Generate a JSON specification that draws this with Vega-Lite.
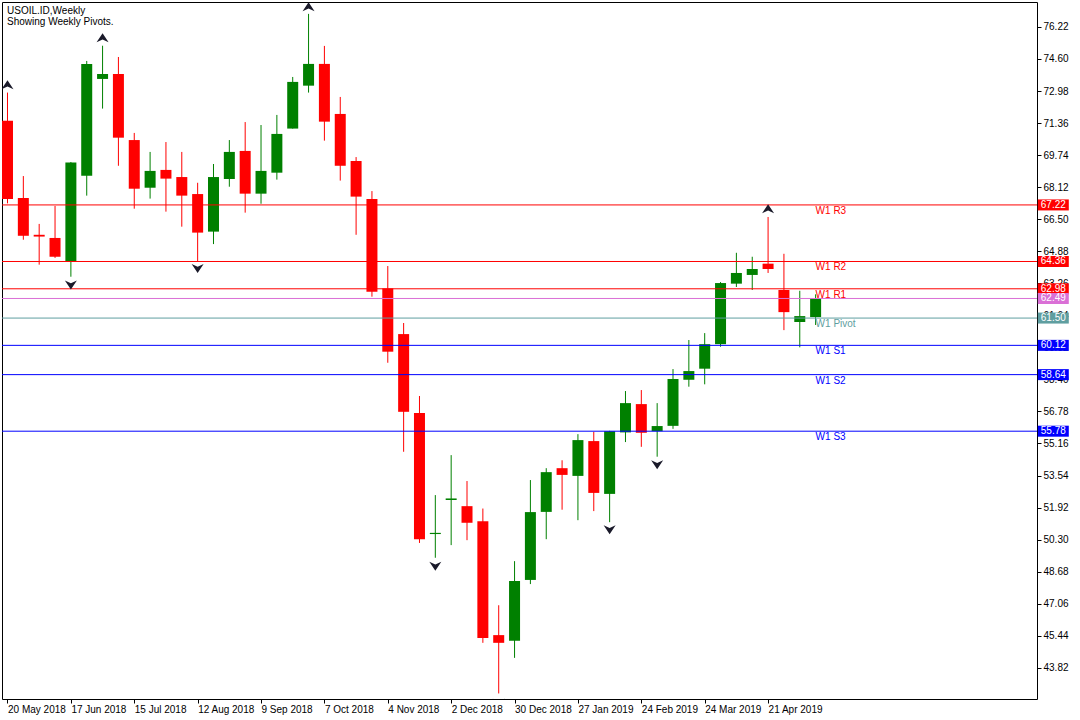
{
  "$schema": "https://vega.github.io/schema/vega-lite/v6.json",
  "width": 1035,
  "height": 697,
  "autosize": {"type": "none"},
  "padding": {"left": 2, "top": 2, "right": 43, "bottom": 21},
  "background": "white",
  "config": {
    "view": {"stroke": "black", "strokeWidth": 1},
    "font": "Liberation Sans",
    "axis": {"labelFont": "Liberation Sans", "labelFontSize": 10, "labelColor": "black", "tickColor": "black", "domain": false, "grid": false, "labelOverlap": false, "labelFlush": false, "labelBound": false}
  },
  "title": {
    "text": ["USOIL.ID,Weekly", "Showing Weekly Pivots."],
    "anchor": "start",
    "frame": "group",
    "orient": "top",
    "baseline": "top",
    "offset": -25,
    "dx": 5,
    "font": "Liberation Sans",
    "fontSize": 10,
    "fontWeight": "normal",
    "color": "black",
    "lineHeight": 11
  },
  "datasets": {
    "candles": [
      {"date": "2018-05-20", "open": 71.47, "high": 72.90, "low": 67.30, "close": 67.52},
      {"date": "2018-05-27", "open": 67.57, "high": 68.68, "low": 65.46, "close": 65.66},
      {"date": "2018-06-03", "open": 65.71, "high": 66.26, "low": 64.20, "close": 65.62},
      {"date": "2018-06-10", "open": 65.55, "high": 67.17, "low": 64.54, "close": 64.60},
      {"date": "2018-06-17", "open": 64.38, "high": 69.39, "low": 63.59, "close": 69.36},
      {"date": "2018-06-24", "open": 68.70, "high": 74.50, "low": 67.69, "close": 74.35},
      {"date": "2018-07-01", "open": 73.59, "high": 75.27, "low": 72.09, "close": 73.84},
      {"date": "2018-07-08", "open": 73.84, "high": 74.70, "low": 69.20, "close": 70.62},
      {"date": "2018-07-15", "open": 70.50, "high": 70.86, "low": 67.03, "close": 68.04},
      {"date": "2018-07-22", "open": 68.09, "high": 69.90, "low": 67.54, "close": 68.94},
      {"date": "2018-07-29", "open": 68.99, "high": 70.40, "low": 66.88, "close": 68.55},
      {"date": "2018-08-05", "open": 68.63, "high": 69.90, "low": 66.12, "close": 67.69},
      {"date": "2018-08-12", "open": 67.77, "high": 68.34, "low": 64.38, "close": 65.82},
      {"date": "2018-08-19", "open": 65.87, "high": 69.29, "low": 65.24, "close": 68.63},
      {"date": "2018-08-26", "open": 68.53, "high": 70.50, "low": 68.14, "close": 69.90},
      {"date": "2018-09-02", "open": 69.95, "high": 71.41, "low": 66.83, "close": 67.79},
      {"date": "2018-09-09", "open": 67.79, "high": 71.26, "low": 67.28, "close": 68.94},
      {"date": "2018-09-16", "open": 68.85, "high": 71.77, "low": 68.50, "close": 70.81},
      {"date": "2018-09-23", "open": 71.08, "high": 73.69, "low": 71.08, "close": 73.44},
      {"date": "2018-09-30", "open": 73.25, "high": 76.88, "low": 72.90, "close": 74.35},
      {"date": "2018-10-07", "open": 74.35, "high": 75.26, "low": 70.47, "close": 71.43},
      {"date": "2018-10-14", "open": 71.82, "high": 72.68, "low": 68.45, "close": 69.20},
      {"date": "2018-10-21", "open": 69.44, "high": 69.64, "low": 65.71, "close": 67.64},
      {"date": "2018-10-28", "open": 67.52, "high": 67.92, "low": 62.58, "close": 62.83},
      {"date": "2018-11-04", "open": 63.00, "high": 64.13, "low": 59.24, "close": 59.80},
      {"date": "2018-11-11", "open": 60.69, "high": 61.25, "low": 54.74, "close": 56.76},
      {"date": "2018-11-18", "open": 56.70, "high": 57.56, "low": 50.13, "close": 50.32},
      {"date": "2018-11-25", "open": 50.58, "high": 52.55, "low": 49.38, "close": 50.64},
      {"date": "2018-12-02", "open": 52.30, "high": 54.57, "low": 50.02, "close": 52.38},
      {"date": "2018-12-09", "open": 51.99, "high": 53.26, "low": 50.27, "close": 51.15},
      {"date": "2018-12-16", "open": 51.23, "high": 51.87, "low": 45.08, "close": 45.33},
      {"date": "2018-12-23", "open": 45.47, "high": 46.98, "low": 42.52, "close": 45.08},
      {"date": "2018-12-30", "open": 45.18, "high": 49.21, "low": 44.32, "close": 48.20},
      {"date": "2019-01-06", "open": 48.26, "high": 53.31, "low": 48.05, "close": 51.69},
      {"date": "2019-01-13", "open": 51.70, "high": 53.91, "low": 50.32, "close": 53.71},
      {"date": "2019-01-20", "open": 53.91, "high": 54.31, "low": 51.81, "close": 53.57},
      {"date": "2019-01-27", "open": 53.52, "high": 55.63, "low": 51.28, "close": 55.33},
      {"date": "2019-02-03", "open": 55.28, "high": 55.75, "low": 51.74, "close": 52.66},
      {"date": "2019-02-10", "open": 52.61, "high": 55.80, "low": 51.18, "close": 55.78},
      {"date": "2019-02-17", "open": 55.72, "high": 57.81, "low": 55.23, "close": 57.20},
      {"date": "2019-02-24", "open": 57.15, "high": 57.86, "low": 54.99, "close": 55.70},
      {"date": "2019-03-03", "open": 55.78, "high": 57.20, "low": 54.49, "close": 56.04},
      {"date": "2019-03-10", "open": 56.05, "high": 58.92, "low": 55.90, "close": 58.42},
      {"date": "2019-03-17", "open": 58.38, "high": 60.39, "low": 58.03, "close": 58.82},
      {"date": "2019-03-24", "open": 58.94, "high": 60.74, "low": 58.15, "close": 60.18},
      {"date": "2019-03-31", "open": 60.18, "high": 63.32, "low": 60.05, "close": 63.27},
      {"date": "2019-04-07", "open": 63.24, "high": 64.80, "low": 63.07, "close": 63.78},
      {"date": "2019-04-14", "open": 63.68, "high": 64.60, "low": 62.92, "close": 63.98},
      {"date": "2019-04-21", "open": 64.25, "high": 66.61, "low": 63.78, "close": 63.98},
      {"date": "2019-04-28", "open": 62.92, "high": 64.75, "low": 60.89, "close": 61.80},
      {"date": "2019-05-05", "open": 61.30, "high": 62.88, "low": 60.02, "close": 61.60},
      {"date": "2019-05-12", "open": 61.55, "high": 62.70, "low": 61.15, "close": 62.49}
    ],
    "levels": [
      {"name": "R3", "label": "W1 R3", "price": 67.22},
      {"name": "R2", "label": "W1 R2", "price": 64.36},
      {"name": "R1", "label": "W1 R1", "price": 62.98},
      {"name": "Bid", "label": "", "price": 62.49},
      {"name": "Pivot", "label": "W1 Pivot", "price": 61.50},
      {"name": "S1", "label": "W1 S1", "price": 60.12},
      {"name": "S2", "label": "W1 S2", "price": 58.64},
      {"name": "S3", "label": "W1 S3", "price": 55.78}
    ],
    "fractals": [
      {"date": "2018-05-20", "price": 73.30, "dir": "up"},
      {"date": "2018-06-17", "price": 63.17, "dir": "down"},
      {"date": "2018-07-01", "price": 75.67, "dir": "up"},
      {"date": "2018-08-12", "price": 64.00, "dir": "down"},
      {"date": "2018-09-30", "price": 77.24, "dir": "up"},
      {"date": "2018-11-25", "price": 48.95, "dir": "down"},
      {"date": "2018-12-23", "price": 42.03, "dir": "down"},
      {"date": "2019-02-10", "price": 50.80, "dir": "down"},
      {"date": "2019-03-03", "price": 54.08, "dir": "down"},
      {"date": "2019-04-21", "price": 67.03, "dir": "up"}
    ]
  },
  "layer": [
    {
      "mark": {"type": "rule", "color": "black", "strokeDash": [3, 3], "strokeWidth": 1},
      "encoding": {
        "x": {"datum": {"year": 2019, "month": 1, "date": 6, "utc": true}, "type": "temporal", "title": null,
          "scale": {"type": "utc", "domain": [{"year": 2018, "month": 5, "date": 19, "hours": 18, "minutes": 45, "utc": true}, {"year": 2019, "month": 8, "date": 15, "hours": 14, "minutes": 10, "utc": true}]},
          "axis": {
            "values": [
              {"year": 2018, "month": 5, "date": 20, "utc": true},
              {"year": 2018, "month": 6, "date": 17, "utc": true},
              {"year": 2018, "month": 7, "date": 15, "utc": true},
              {"year": 2018, "month": 8, "date": 12, "utc": true},
              {"year": 2018, "month": 9, "date": 9, "utc": true},
              {"year": 2018, "month": 10, "date": 7, "utc": true},
              {"year": 2018, "month": 11, "date": 4, "utc": true},
              {"year": 2018, "month": 12, "date": 2, "utc": true},
              {"year": 2018, "month": 12, "date": 30, "utc": true},
              {"year": 2019, "month": 1, "date": 27, "utc": true},
              {"year": 2019, "month": 2, "date": 24, "utc": true},
              {"year": 2019, "month": 3, "date": 24, "utc": true},
              {"year": 2019, "month": 4, "date": 21, "utc": true}
            ],
            "tickCount": 40,
            "labelExpr": "utcFormat(datum.value, '%-d %b %Y')",
            "tickSize": 4,
            "labelAlign": "left",
            "labelBaseline": "top",
            "labelPadding": 1,
            "labelOverlap": false,
            "labelFlush": false,
            "labelBound": false
          }
        }
      }
    },
    {
      "data": {"name": "candles"},
      "mark": {"type": "rule", "strokeWidth": 1, "clip": true},
      "encoding": {
        "x": {"field": "date", "type": "temporal", "title": null,
          "scale": {"type": "utc", "domain": [{"year": 2018, "month": 5, "date": 19, "hours": 18, "minutes": 45, "utc": true}, {"year": 2019, "month": 8, "date": 15, "hours": 14, "minutes": 10, "utc": true}]}},
        "y": {"field": "low", "type": "quantitative", "title": null,
          "scale": {"domain": [42.24, 77.48], "zero": false, "nice": false},
          "axis": {"orient": "right", "values": [43.82, 45.44, 47.06, 48.68, 50.30, 51.92, 53.54, 55.16, 56.78, 58.40, 60.02, 61.64, 63.26, 64.88, 66.50, 68.12, 69.74, 71.36, 72.98, 74.60, 76.22], "tickCount": 40, "format": ".2f", "tickSize": 4, "labelPadding": 2, "labelAlign": "left", "labelBaseline": "middle", "labelOverlap": false, "labelBound": false, "labelFlush": false}},
        "y2": {"field": "high"},
        "color": {"condition": {"test": "datum.close >= datum.open", "value": "#008000"}, "value": "#FF0000"}
      }
    },
    {
      "data": {"name": "candles"},
      "mark": {"type": "bar", "size": 11, "clip": true},
      "encoding": {
        "x": {"field": "date", "type": "temporal", "title": null,
          "scale": {"type": "utc", "domain": [{"year": 2018, "month": 5, "date": 19, "hours": 18, "minutes": 45, "utc": true}, {"year": 2019, "month": 8, "date": 15, "hours": 14, "minutes": 10, "utc": true}]}},
        "y": {"field": "open", "type": "quantitative", "title": null,
          "scale": {"domain": [42.24, 77.48], "zero": false, "nice": false}},
        "y2": {"field": "close"},
        "color": {"condition": {"test": "datum.close >= datum.open", "value": "#008000"}, "value": "#FF0000"}
      }
    },
    {
      "data": {"name": "levels"},
      "mark": {"type": "rule", "strokeWidth": 1},
      "encoding": {
        "y": {"field": "price", "type": "quantitative", "title": null,
          "scale": {"domain": [42.24, 77.48], "zero": false, "nice": false}},
        "color": {"field": "name", "type": "nominal", "legend": null,
          "scale": {"domain": ["R3", "R2", "R1", "Bid", "Pivot", "S1", "S2", "S3"], "range": ["#FF0000", "#FF0000", "#FF0000", "#DA70D6", "#5F9EA0", "#0000FF", "#0000FF", "#0000FF"]}}
      }
    },
    {
      "data": {"name": "fractals"},
      "mark": {"type": "point", "filled": true, "size": 144, "opacity": 1, "clip": true},
      "encoding": {
        "x": {"field": "date", "type": "temporal", "title": null,
          "scale": {"type": "utc", "domain": [{"year": 2018, "month": 5, "date": 19, "hours": 18, "minutes": 45, "utc": true}, {"year": 2019, "month": 8, "date": 15, "hours": 14, "minutes": 10, "utc": true}]}},
        "y": {"field": "price", "type": "quantitative", "title": null,
          "scale": {"domain": [42.24, 77.48], "zero": false, "nice": false}},
        "shape": {"field": "dir", "type": "nominal", "legend": null,
          "scale": {"domain": ["up", "down"], "range": ["M0,-0.75L1,0.75L0,0.3L-1,0.75Z", "M0,0.75L1,-0.75L0,-0.3L-1,-0.75Z"]}},
        "fill": {"value": "#1a1a2a"}
      }
    },
    {
      "data": {"name": "levels"},
      "transform": [{"filter": "datum.label != ''"}],
      "mark": {"type": "text", "align": "left", "baseline": "top", "dy": 1, "fontSize": 10, "font": "Liberation Sans"},
      "encoding": {
        "x": {"datum": {"year": 2019, "month": 5, "date": 12, "utc": true}, "type": "temporal",
          "scale": {"type": "utc", "domain": [{"year": 2018, "month": 5, "date": 19, "hours": 18, "minutes": 45, "utc": true}, {"year": 2019, "month": 8, "date": 15, "hours": 14, "minutes": 10, "utc": true}]}},
        "y": {"field": "price", "type": "quantitative", "title": null,
          "scale": {"domain": [42.24, 77.48], "zero": false, "nice": false}},
        "text": {"field": "label"},
        "color": {"field": "name", "type": "nominal", "legend": null}
      }
    },
    {
      "data": {"name": "levels"},
      "mark": {"type": "point", "filled": true, "opacity": 1, "size": 961, "shape": "M-1,-0.355L1,-0.355L1,0.355L-1,0.355Z", "clip": false},
      "encoding": {
        "x": {"datum": {"year": 2019, "month": 8, "date": 25, "hours": 0, "utc": true}, "type": "temporal",
          "scale": {"type": "utc", "domain": [{"year": 2018, "month": 5, "date": 19, "hours": 18, "minutes": 45, "utc": true}, {"year": 2019, "month": 8, "date": 15, "hours": 14, "minutes": 10, "utc": true}]}},
        "y": {"field": "price", "type": "quantitative", "title": null,
          "scale": {"domain": [42.24, 77.48], "zero": false, "nice": false}},
        "color": {"field": "name", "type": "nominal", "legend": null}
      }
    },
    {
      "data": {"name": "levels"},
      "mark": {"type": "text", "align": "center", "baseline": "middle", "fontSize": 10, "font": "Liberation Sans", "color": "white", "clip": false},
      "encoding": {
        "x": {"datum": {"year": 2019, "month": 8, "date": 25, "hours": 0, "utc": true}, "type": "temporal",
          "scale": {"type": "utc", "domain": [{"year": 2018, "month": 5, "date": 19, "hours": 18, "minutes": 45, "utc": true}, {"year": 2019, "month": 8, "date": 15, "hours": 14, "minutes": 10, "utc": true}]}},
        "y": {"field": "price", "type": "quantitative", "title": null,
          "scale": {"domain": [42.24, 77.48], "zero": false, "nice": false}},
        "text": {"field": "price", "type": "quantitative", "format": ".2f"}
      }
    }
  ]
}
